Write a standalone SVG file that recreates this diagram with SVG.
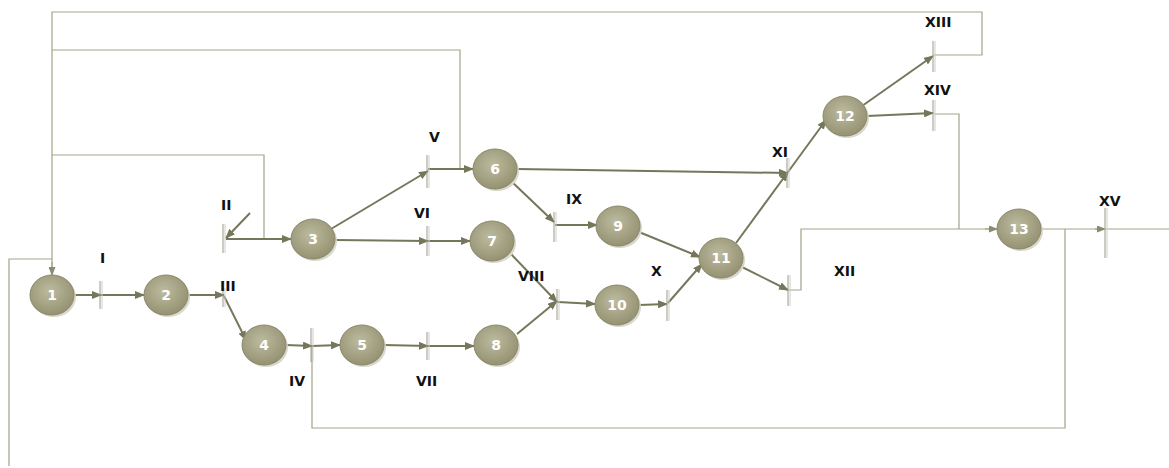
<svg xmlns="http://www.w3.org/2000/svg" width="1169" height="468" viewBox="0 0 1169 468">
<defs>
<radialGradient id="g" cx="45%" cy="40%" r="65%">
<stop offset="0" stop-color="#bdbb9e"/>
<stop offset="1" stop-color="#928f70"/>
</radialGradient>
<marker id="a" markerWidth="10" markerHeight="8" refX="9" refY="4" orient="auto" markerUnits="userSpaceOnUse">
<path d="M0,0 L10,4 L0,8 Z" fill="#76765a"/>
</marker>
<marker id="as" markerWidth="9" markerHeight="7" refX="8" refY="3.5" orient="auto" markerUnits="userSpaceOnUse">
<path d="M0,0 L9,3.5 L0,7 Z" fill="#8a8a70"/>
</marker>
</defs>
<style>
.n ellipse{fill:url(#g);stroke:#8a876a;stroke-width:1}
.n .sh{fill:#d8d8cc;stroke:none}
.n text{font-family:"DejaVu Sans",sans-serif;font-size:14px;font-weight:bold;fill:#ffffff;text-anchor:middle}
.c{fill:none;stroke:#76765a;stroke-width:2;marker-end:url(#a)}
.t{fill:none;stroke:#a3a38a;stroke-width:1.2}
.ta{fill:none;stroke:#a3a38a;stroke-width:1.2;marker-end:url(#as)}
.b .d{stroke:#9a9a8c;stroke-width:1}
.b .p{stroke:#cfcfc6;stroke-width:1}
.l{font-family:"DejaVu Sans",sans-serif;font-size:14px;font-weight:bold;fill:#111}
</style>

<g id="connectors">
<polyline class="t" points="934,55 982,55 982,12 52,12 52,268"/>
<path d="M52,262 L52,275" class="ta"/>
<polyline class="t" points="460,169 460,50 52,50"/>
<polyline class="t" points="264,239 264,155 52,155"/>
<polyline class="t" points="52,259 9,259 9,466"/>
<polyline class="t" points="789,290 801,290 801,229 990,229"/>
<path d="M985,229 L997,229" class="ta"/>
<polyline class="t" points="934,114 959,114 959,229"/>
<polyline class="t" points="1041,229 1100,229"/>
<path d="M1095,229 L1105,229" class="ta"/>
<polyline class="t" points="1106,229 1169,229"/>
<polyline class="t" points="1065,229 1065,428 312,428 312,346"/>
<line class="c" x1="74" y1="295" x2="101" y2="295"/>
<line class="c" x1="101" y1="295" x2="144" y2="295"/>
<line class="c" x1="188" y1="295" x2="224" y2="295"/>
<line class="c" x1="224" y1="296" x2="246" y2="340"/>
<line class="c" x1="286" y1="345" x2="312" y2="346"/>
<line class="c" x1="312" y1="346" x2="340" y2="345"/>
<line class="c" x1="384" y1="345" x2="428" y2="346"/>
<line class="c" x1="428" y1="346" x2="474" y2="346"/>
<line class="c" x1="250" y1="213" x2="226" y2="238"/>
<line class="c" x1="226" y1="239" x2="291" y2="239"/>
<line class="c" x1="331" y1="229" x2="428" y2="171"/>
<line class="c" x1="428" y1="169" x2="473" y2="169"/>
<line class="c" x1="335" y1="240" x2="428" y2="241"/>
<line class="c" x1="428" y1="241" x2="470" y2="241"/>
<line class="c" x1="511" y1="181" x2="554" y2="222"/>
<line class="c" x1="555" y1="225" x2="597" y2="225"/>
<line class="c" x1="517" y1="169" x2="788" y2="173"/>
<line class="c" x1="510" y1="253" x2="557" y2="302"/>
<line class="c" x1="517" y1="334" x2="557" y2="301"/>
<line class="c" x1="558" y1="302" x2="595" y2="304"/>
<line class="c" x1="639" y1="305" x2="667" y2="304"/>
<line class="c" x1="668" y1="303" x2="702" y2="264"/>
<line class="c" x1="639" y1="232" x2="700" y2="257"/>
<line class="c" x1="736" y1="243" x2="788" y2="172"/>
<line class="c" x1="788" y1="172" x2="826" y2="120"/>
<line class="c" x1="740" y1="266" x2="788" y2="290"/>
<line class="c" x1="862" y1="106" x2="933" y2="56"/>
<line class="c" x1="867" y1="116" x2="933" y2="113"/>
</g>

<g id="bars">
<g id="bar-I" class="b"><line class="d" x1="100" y1="281" x2="100" y2="309"/><line class="p" x1="102" y1="281" x2="102" y2="309"/></g>
<g id="bar-II" class="b"><line class="d" x1="223" y1="224" x2="223" y2="253"/><line class="p" x1="225" y1="224" x2="225" y2="253"/></g>
<g id="bar-III" class="b"><line class="d" x1="223" y1="288" x2="223" y2="307"/><line class="p" x1="225" y1="288" x2="225" y2="307"/></g>
<g id="bar-IV" class="b"><line class="d" x1="311" y1="328" x2="311" y2="362"/><line class="p" x1="313" y1="328" x2="313" y2="362"/></g>
<g id="bar-V" class="b"><line class="d" x1="427" y1="155" x2="427" y2="188"/><line class="p" x1="429" y1="155" x2="429" y2="188"/></g>
<g id="bar-VI" class="b"><line class="d" x1="427" y1="226" x2="427" y2="256"/><line class="p" x1="429" y1="226" x2="429" y2="256"/></g>
<g id="bar-VII" class="b"><line class="d" x1="427" y1="332" x2="427" y2="360"/><line class="p" x1="429" y1="332" x2="429" y2="360"/></g>
<g id="bar-VIII" class="b"><line class="d" x1="557" y1="289" x2="557" y2="320"/><line class="p" x1="559" y1="289" x2="559" y2="320"/></g>
<g id="bar-IX" class="b"><line class="d" x1="554" y1="212" x2="554" y2="242"/><line class="p" x1="556" y1="212" x2="556" y2="242"/></g>
<g id="bar-X" class="b"><line class="d" x1="667" y1="290" x2="667" y2="321"/><line class="p" x1="669" y1="290" x2="669" y2="321"/></g>
<g id="bar-XI" class="b"><line class="d" x1="787" y1="158" x2="787" y2="188"/><line class="p" x1="789" y1="158" x2="789" y2="188"/></g>
<g id="bar-XII" class="b"><line class="d" x1="788" y1="275" x2="788" y2="306"/><line class="p" x1="790" y1="275" x2="790" y2="306"/></g>
<g id="bar-XIII" class="b"><line class="d" x1="933" y1="41" x2="933" y2="72"/><line class="p" x1="935" y1="41" x2="935" y2="72"/></g>
<g id="bar-XIV" class="b"><line class="d" x1="933" y1="100" x2="933" y2="131"/><line class="p" x1="935" y1="100" x2="935" y2="131"/></g>
<g id="bar-XV" class="b"><line class="d" x1="1105" y1="208" x2="1105" y2="258"/><line class="p" x1="1107" y1="208" x2="1107" y2="258"/></g>
</g>

<g id="labels">
<text class="l" x="100" y="263">I</text>
<text class="l" x="221" y="210">II</text>
<text class="l" x="220" y="291">III</text>
<text class="l" x="289" y="386">IV</text>
<text class="l" x="429" y="142">V</text>
<text class="l" x="414" y="218">VI</text>
<text class="l" x="416" y="386">VII</text>
<text class="l" x="518" y="281">VIII</text>
<text class="l" x="566" y="204">IX</text>
<text class="l" x="651" y="276">X</text>
<text class="l" x="772" y="157">XI</text>
<text class="l" x="834" y="276">XII</text>
<text class="l" x="925" y="27">XIII</text>
<text class="l" x="924" y="95">XIV</text>
<text class="l" x="1099" y="206">XV</text>
</g>

<g id="node-1" class="n"><ellipse class="sh" cx="54" cy="297" rx="22" ry="20"/><ellipse cx="52" cy="295" rx="22" ry="20"/><text x="52" y="300">1</text></g>
<g id="node-2" class="n"><ellipse class="sh" cx="168" cy="297" rx="22" ry="20"/><ellipse cx="166" cy="295" rx="22" ry="20"/><text x="166" y="300">2</text></g>
<g id="node-3" class="n"><ellipse class="sh" cx="315" cy="241" rx="22" ry="20"/><ellipse cx="313" cy="239" rx="22" ry="20"/><text x="313" y="244">3</text></g>
<g id="node-4" class="n"><ellipse class="sh" cx="266" cy="347" rx="22" ry="20"/><ellipse cx="264" cy="345" rx="22" ry="20"/><text x="264" y="350">4</text></g>
<g id="node-5" class="n"><ellipse class="sh" cx="364" cy="347" rx="22" ry="20"/><ellipse cx="362" cy="345" rx="22" ry="20"/><text x="362" y="350">5</text></g>
<g id="node-6" class="n"><ellipse class="sh" cx="497" cy="171" rx="22" ry="20"/><ellipse cx="495" cy="169" rx="22" ry="20"/><text x="495" y="174">6</text></g>
<g id="node-7" class="n"><ellipse class="sh" cx="494" cy="243" rx="22" ry="20"/><ellipse cx="492" cy="241" rx="22" ry="20"/><text x="492" y="246">7</text></g>
<g id="node-8" class="n"><ellipse class="sh" cx="498" cy="347" rx="22" ry="20"/><ellipse cx="496" cy="345" rx="22" ry="20"/><text x="496" y="350">8</text></g>
<g id="node-9" class="n"><ellipse class="sh" cx="620" cy="228" rx="22" ry="20"/><ellipse cx="618" cy="226" rx="22" ry="20"/><text x="618" y="231">9</text></g>
<g id="node-10" class="n"><ellipse class="sh" cx="619" cy="307" rx="22" ry="20"/><ellipse cx="617" cy="305" rx="22" ry="20"/><text x="617" y="310">10</text></g>
<g id="node-11" class="n"><ellipse class="sh" cx="723" cy="260" rx="22" ry="20"/><ellipse cx="721" cy="258" rx="22" ry="20"/><text x="721" y="263">11</text></g>
<g id="node-12" class="n"><ellipse class="sh" cx="847" cy="118" rx="22" ry="20"/><ellipse cx="845" cy="116" rx="22" ry="20"/><text x="845" y="121">12</text></g>
<g id="node-13" class="n"><ellipse class="sh" cx="1021" cy="231" rx="22" ry="20"/><ellipse cx="1019" cy="229" rx="22" ry="20"/><text x="1019" y="234">13</text></g>
</svg>
